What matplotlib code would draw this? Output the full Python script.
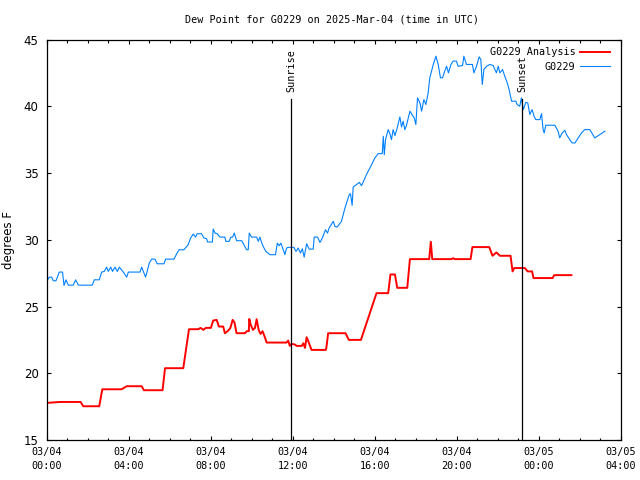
import numpy as np
import pandas as pd
import matplotlib
matplotlib.use("Agg")
import matplotlib.pyplot as plt
import matplotlib.dates as mdates

# hours after 2025-03-04 00:00 UTC
obs_hours = [0.0, 0.11, 0.23, 0.31, 0.44, 0.6, 0.76, 0.83, 0.93, 1.04, 1.28, 1.4, 1.53, 2.21,
             2.31, 2.55, 2.67, 2.8, 2.91, 2.99, 3.11, 3.2, 3.32, 3.43, 3.53, 3.64, 3.76, 3.89,
             3.97, 4.54, 4.62, 4.7, 4.81, 4.89, 4.99, 5.11, 5.27, 5.38, 5.71, 5.79, 6.2, 6.33,
             6.44, 6.68, 6.89, 7.01, 7.14, 7.25, 7.33, 7.54, 7.66, 7.79, 7.84, 8.07, 8.11, 8.2,
             8.31, 8.44, 8.68, 8.73, 8.89, 8.96, 9.06, 9.14, 9.25, 9.5, 9.61, 9.74, 9.82, 9.87,
             9.98, 10.23, 10.31, 10.39, 10.47, 10.55, 10.68, 10.88, 11.15, 11.24, 11.33, 11.41,
             11.5, 11.61, 11.69, 11.77, 11.93, 12.05, 12.15, 12.26, 12.37, 12.46, 12.55, 12.67,
             12.8, 12.99, 13.04, 13.2, 13.32, 13.45, 13.59, 13.69, 13.77, 13.97, 14.05, 14.16,
             14.37, 14.54, 14.75, 14.81, 14.89, 14.94, 15.24, 15.35, 15.59, 15.84, 16.0, 16.16,
             16.36, 16.41, 16.46, 16.52, 16.65, 16.73, 16.81, 16.89, 16.98, 17.09, 17.22, 17.3,
             17.38, 17.46, 17.54, 17.71, 17.84, 17.92, 18.0, 18.08, 18.2, 18.28, 18.39, 18.49,
             18.6, 18.68, 18.85, 18.98, 19.09, 19.2, 19.3, 19.41, 19.5, 19.59, 19.71, 19.82,
             19.98, 20.06, 20.28, 20.34, 20.47, 20.76, 20.83, 20.96, 21.09, 21.17, 21.24, 21.32,
             21.45, 21.61, 21.77, 21.93, 22.02, 22.1, 22.23, 22.34, 22.46, 22.55, 22.67, 22.88,
             22.94, 23.07, 23.15, 23.24, 23.37, 23.46, 23.56, 23.67, 23.77, 23.85, 24.05, 24.13,
             24.21, 24.26, 24.34, 24.78, 24.94, 25.02, 25.14, 25.27, 25.35, 25.51, 25.63, 25.76,
             26.08, 26.24, 26.49, 26.73, 26.98, 27.22]
obs_dewpt = [26.93, 27.2, 27.2, 26.93, 26.93, 27.58, 27.58, 26.58, 27.0, 26.6, 26.6, 27.0, 26.6, 26.6,
             27.0, 27.0, 27.58, 27.63, 27.95, 27.63, 27.95, 27.63, 27.95, 27.63, 27.95, 27.75, 27.5, 27.2,
             27.58, 27.58, 27.95, 27.63, 27.2, 27.63, 28.25, 28.55, 28.55, 28.2, 28.2, 28.55, 28.55, 28.95,
             29.25, 29.25, 29.63, 30.13, 30.43, 30.2, 30.45, 30.45, 30.13, 30.08, 29.83, 29.83, 30.8, 30.5,
             30.45, 30.2, 30.2, 29.88, 29.88, 30.18, 30.2, 30.5, 29.93, 29.93, 29.63, 29.25, 29.25, 30.5,
             30.2, 30.2, 29.88, 30.2, 29.8, 29.5, 29.13, 28.88, 28.88, 29.75, 29.55, 29.75, 29.38, 28.88,
             29.38, 29.43, 29.43, 29.43, 29.13, 29.38, 29.0, 29.33, 28.7, 29.7, 29.3, 29.3, 30.2, 30.2,
             29.8, 30.18, 30.75, 30.5, 30.88, 31.38, 31.0, 30.95, 31.38, 32.38, 33.38, 33.45, 32.58, 33.95,
             34.3, 34.05, 34.88, 35.63, 36.13, 36.45, 36.45, 37.75, 36.38, 37.5, 38.25, 37.95, 37.5, 38.25,
             37.8, 38.38, 39.2, 38.45, 38.88, 38.25, 38.55, 39.63, 39.3, 39.13, 38.63, 40.63, 40.25, 39.63,
             40.5, 40.13, 41.0, 42.13, 43.13, 43.75, 43.13, 42.13, 42.13, 42.63, 43.0, 42.5, 43.13, 43.38,
             43.38, 43.0, 43.05, 43.75, 43.13, 43.13, 42.5, 43.0, 43.7, 43.5, 41.63, 42.75, 43.0, 43.13,
             43.05, 42.5, 43.0, 42.5, 42.75, 42.25, 41.75, 41.25, 40.38, 40.38, 40.13, 40.0, 40.63, 39.75,
             40.3, 40.25, 39.38, 39.75, 39.25, 39.0, 39.0, 39.45, 38.25, 38.0, 38.58, 38.58, 38.13, 37.63,
             38.0, 38.2, 37.88, 37.5, 37.25, 37.25, 38.0, 38.25, 38.25, 37.63, 37.88, 38.13]

ana_hours = [0.0, 0.63, 1.64, 1.77, 2.55, 2.7, 3.64, 3.89, 4.62, 4.73, 5.64, 5.76, 6.65, 6.93,
             7.38, 7.5, 7.63, 7.75, 8.0, 8.11, 8.28, 8.39, 8.6, 8.68, 8.85, 8.95, 9.06, 9.15,
             9.25, 9.66, 9.75, 9.85, 9.87, 9.95, 10.05, 10.15, 10.23, 10.33, 10.42, 10.52, 10.62,
             10.72, 11.69, 11.77, 11.85, 11.93, 12.1, 12.18, 12.43, 12.51, 12.59, 12.67, 12.75,
             12.91, 13.61, 13.64, 13.72, 14.57, 14.73, 15.32, 16.08, 16.16, 16.65, 16.76, 16.98,
             17.09, 17.58, 17.71, 18.65, 18.73, 18.8, 19.74, 19.82, 19.9, 20.67, 20.76, 21.58,
             21.74, 21.93, 22.1, 22.62, 22.72, 22.8, 23.32, 23.45, 23.67, 23.74, 24.67, 24.75, 25.59]
ana_dewpt = [17.78, 17.85, 17.85, 17.53, 17.53, 18.8, 18.8, 19.03, 19.03, 18.73, 18.73, 20.38, 20.38, 23.3,
             23.3, 23.4, 23.25, 23.4, 23.4, 23.95, 24.0, 23.5, 23.5, 23.0, 23.2, 23.4, 24.0, 23.8,
             23.0, 23.0, 23.15, 23.15, 24.07, 23.6, 23.25, 23.4, 24.05, 23.25, 22.95, 23.15, 22.75,
             22.3, 22.3, 22.45, 22.05, 22.2, 22.15, 22.05, 22.05, 22.25, 21.9, 22.7, 22.4,
             21.75, 21.75, 22.0, 23.0, 23.0, 22.5, 22.5, 26.0, 26.0, 26.0, 27.4, 27.4,
             26.4, 26.4, 28.55, 28.55, 29.85, 28.55, 28.55, 28.62, 28.55, 28.55, 29.45, 29.45,
             28.8, 29.05, 28.8, 28.8, 27.63, 27.88, 27.88, 27.63, 27.63, 27.13, 27.13, 27.35, 27.35]

sunrise_hour = 11.92
sunset_hour = 23.19

day0 = pd.Timestamp("2025-03-04 00:00")
obs_t = day0 + pd.to_timedelta(obs_hours, unit="h")
ana_t = day0 + pd.to_timedelta(ana_hours, unit="h")
sunrise = day0 + pd.Timedelta(hours=sunrise_hour)
sunset = day0 + pd.Timedelta(hours=sunset_hour)

mono = "DejaVu Sans Mono"
fs = 7.3

fig = plt.figure(figsize=(6.4, 4.8), dpi=100)
ax = fig.add_axes([0.0734, 0.0833, 0.8966, 0.8344])

ax.plot(ana_t, ana_dewpt, color="#ff0000", lw=1.4, label="G0229 Analysis")
ax.plot(obs_t, obs_dewpt, color="#0080ff", lw=0.8, label="G0229")

for t, name in [(sunrise, "Sunrise"), (sunset, "Sunset")]:
    ax.plot([t, t], [15, 40.55], color="black", lw=0.9)
    ax.text(t, 41.1, name, rotation=90, ha="center", va="bottom", family=mono, fontsize=fs)

ax.set_xlim(day0, day0 + pd.Timedelta(hours=28))
ax.set_ylim(15, 45)
ax.set_yticks(np.arange(15, 46, 5))
ax.xaxis.set_major_locator(mdates.HourLocator(byhour=range(0, 24, 4)))
ax.xaxis.set_minor_locator(mdates.HourLocator())
ax.xaxis.set_major_formatter(mdates.DateFormatter("%m/%d\n%H:%M"))
ax.tick_params(which="both", direction="in", top=True, right=True, width=0.8)
ax.tick_params(which="major", length=3.2)
ax.tick_params(which="minor", length=1.8)
ax.tick_params(axis="x", pad=5)
ax.tick_params(axis="y", pad=6)
for lab in ax.get_xticklabels():
    lab.set_family(mono)
    lab.set_fontsize(fs)
    lab.set_linespacing(1.45)
for lab in ax.get_yticklabels():
    lab.set_fontsize(8.5)
for sp in ax.spines.values():
    sp.set_linewidth(0.9)

ax.set_ylabel("degrees F", fontsize=8.5, labelpad=6)
fig.text(0.519, 0.96, "Dew Point for G0229 on 2025-Mar-04 (time in UTC)",
         ha="center", va="center", family=mono, fontsize=fs)

ax.legend(loc="upper right", bbox_to_anchor=(0.987, 0.99), frameon=False, markerfirst=False,
          prop={"family": mono, "size": fs}, handlelength=2.9, handletextpad=0.5,
          labelspacing=0.45, borderaxespad=0.0, borderpad=0.35)

fig.savefig("out.png", dpi=100)
